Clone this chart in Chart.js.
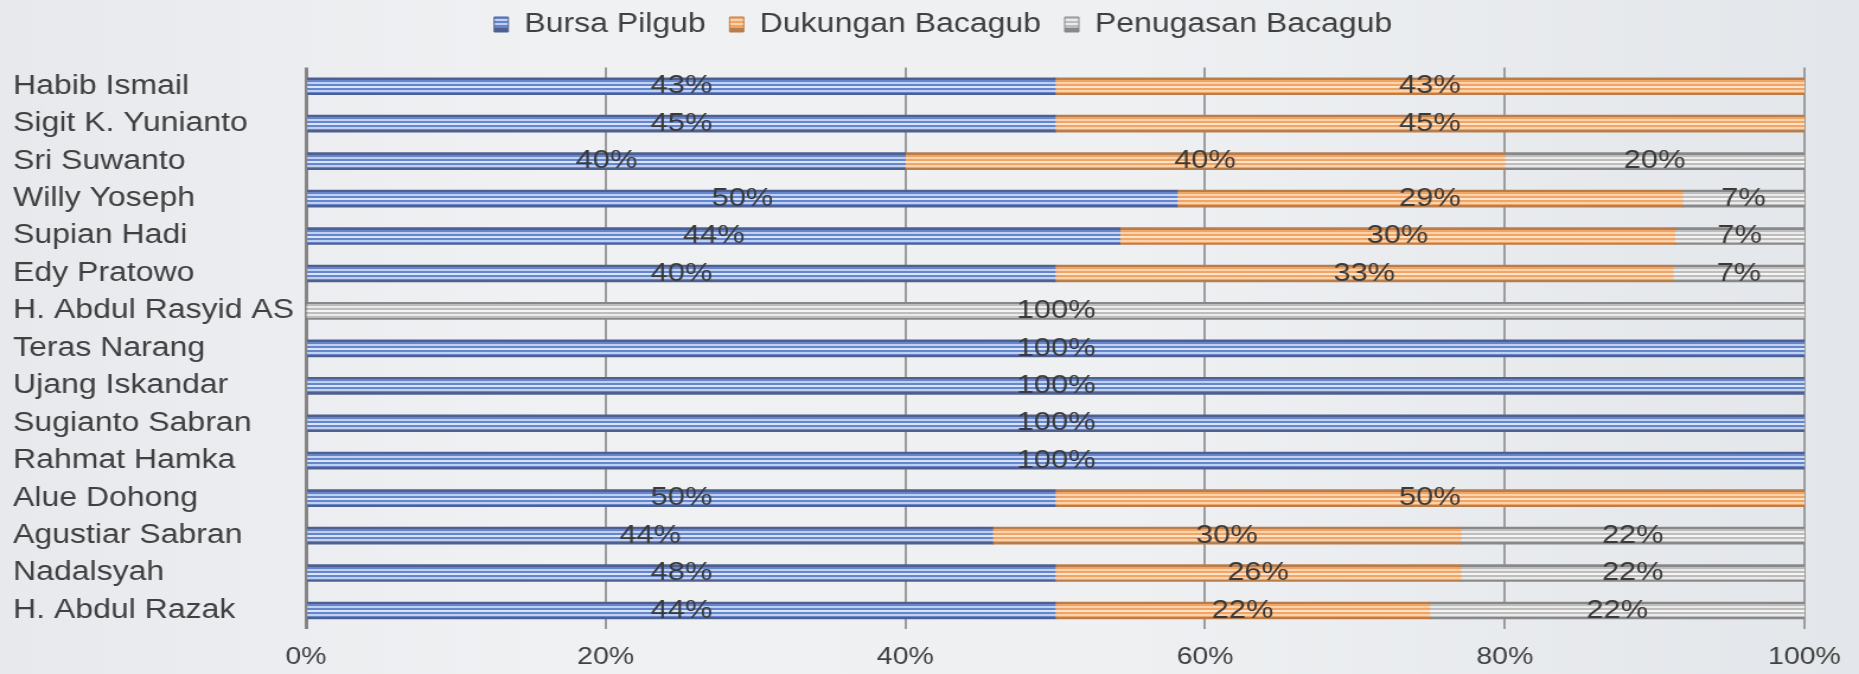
<!DOCTYPE html>
<html>
<head>
<meta charset="utf-8">
<script src="https://cdn.jsdelivr.net/npm/chart.js@4.4.1/dist/chart.umd.min.js"></script>
<style>
html,body{margin:0;padding:0;width:1859px;height:674px;overflow:hidden;
  background:linear-gradient(90deg,#e7e9ed 0%,#f0f1f3 30%,#eef0f2 60%,#e3e6ea 100%);}
#wrap{position:absolute;left:0;top:0;width:1568px;height:674px;transform:scaleX(1.18559);transform-origin:0 0;}
canvas{display:block;}
</style>
</head>
<body>
<div id="wrap"><canvas id="c" width="1568" height="674"></canvas></div>
<script>
// ---------- data ----------
const categories = [
  'Habib Ismail','Sigit K. Yunianto','Sri Suwanto','Willy Yoseph','Supian Hadi','Edy Pratowo',
  'H. Abdul Rasyid AS','Teras Narang','Ujang Iskandar','Sugianto Sabran','Rahmat Hamka',
  'Alue Dohong','Agustiar Sabran','Nadalsyah','H. Abdul Razak'
];
const seriesNames = ['Bursa Pilgub','Dukungan Bacagub','Penugasan Bacagub'];
const bursaPilgub      = [43,45,40,50,44,40,  0,100,100,100,100,50,44,48,44];
const dukunganBacagub  = [43,45,40,29,30,33,  0,  0,  0,  0,  0,50,30,26,22];
const penugasanBacagub = [ 0, 0,20, 7, 7, 7,100,  0,  0,  0,  0, 0,22,22,22];
const xTicks = [0,20,40,60,80,100];

// ---------- styles ----------
const FONT = "'Liberation Sans', Arial, sans-serif";
const TEXT = '#404040';
const BAR_T = 17;
const stripeSets = [
  {edge:'#4f6090', main:'#6586cf', light:'#c0d0ef', lighter:'#dae4f7'},
  {edge:'#b97d4c', main:'#f0a466', light:'#fbd3ab', lighter:'#fde4cb'},
  {edge:'#888888', main:'#bdbdbd', light:'#eaeaea', lighter:'#f5f5f5'}
];
function stopsFor(s){
  return [[0,2,s.edge],[2,4,s.main],[4,6,s.light],[6,8,s.main],[8,10,s.lighter],
          [10,12,s.main],[12,14,s.light],[14,15.2,s.main],[15.2,17,s.edge]];
}
function stripeFill(idx){
  const s = stripeSets[idx];
  const stops = stopsFor(s);
  return (ctx) => {
    const chart = ctx.chart;
    const ys = chart.scales && chart.scales.y;
    if (ctx.type !== 'data' || !ys || !chart.chartArea) return s.main;
    const yc = ys.getPixelForValue(ctx.dataIndex);
    const g = chart.ctx.createLinearGradient(0, yc - BAR_T/2, 0, yc + BAR_T/2);
    stops.forEach(([a,b,c]) => { g.addColorStop(a/BAR_T, c); g.addColorStop(b/BAR_T, c); });
    return g;
  };
}
function legendFill(idx, chart){
  const s = stripeSets[idx];
  const top = 15, h = 15;
  const g = chart.ctx.createLinearGradient(0, top, 0, top + h);
  const st = [[0,2,s.edge],[2,4.5,s.main],[4.5,6.5,s.light],[6.5,8.5,s.main],[8.5,10.5,s.light],[10.5,13,s.main],[13,15,s.edge]];
  st.forEach(([a,b,c]) => { g.addColorStop(a/h, c); g.addColorStop(b/h, c); });
  return g;
}

// ---------- derived (100% stacked) ----------
const rawSeries = [bursaPilgub, dukunganBacagub, penugasanBacagub];
const totals = categories.map((_, i) => rawSeries.reduce((t, s) => t + s[i], 0));
const normSeries = rawSeries.map(s => s.map((v, i) => totals[i] ? v / totals[i] * 100 : 0));

// ---------- plugins ----------
const LEGEND_PAD = 20, LEGEND_EXTRA = 10.5, LEGEND_UP = 9, LEGEND_SHIFT = 29;
const legendTweak = {
  id: 'legendTweak',
  afterInit(chart){
    const lg = chart.legend;
    const fit = lg.fit;
    lg.fit = function(){ fit.call(this); this.height += LEGEND_EXTRA; };
  },
  afterLayout(chart){
    const lg = chart.legend;
    lg.left += LEGEND_SHIFT; lg.right += LEGEND_SHIFT;
    lg.top -= LEGEND_UP; lg.bottom -= LEGEND_UP;
  }
};
const valueLabels = {
  id: 'valueLabels',
  afterDatasetsDraw(chart){
    const ctx = chart.ctx;
    ctx.save();
    ctx.font = '26px ' + FONT;
    ctx.fillStyle = '#3a3a3a';
    ctx.textAlign = 'center';
    ctx.textBaseline = 'middle';
    rawSeries.forEach((s, di) => {
      const meta = chart.getDatasetMeta(di);
      meta.data.forEach((bar, j) => {
        const v = s[j];
        if (!v) return;
        ctx.fillText(v + '%', (bar.x + bar.base) / 2, bar.y);
      });
    });
    ctx.restore();
  }
};

new Chart(document.getElementById('c'), {
  type: 'bar',
  data: {
    labels: categories,
    datasets: seriesNames.map((n, i) => ({
      label: n,
      data: normSeries[i],
      backgroundColor: stripeFill(i),
      borderWidth: 0,
      barThickness: BAR_T
    }))
  },
  options: {
    indexAxis: 'y',
    responsive: false,
    animation: false,
    devicePixelRatio: 1,
    layout: { padding: { left: 11, right: 46, top: 0, bottom: 4 } },
    plugins: {
      tooltip: { enabled: false },
      legend: {
        position: 'top',
        labels: {
          font: { family: FONT, size: 27 },
          color: TEXT,
          boxWidth: 12,
          boxHeight: 15,
          padding: LEGEND_PAD,
          generateLabels: (chart) => seriesNames.map((n, i) => ({
            text: n, fillStyle: legendFill(i, chart), strokeStyle: stripeSets[i].edge,
            lineWidth: 1, hidden: false, datasetIndex: i, fontColor: TEXT
          }))
        }
      }
    },
    scales: {
      x: {
        stacked: true,
        min: 0, max: 100,
        afterBuildTicks: (s) => { s.ticks = xTicks.map(v => ({ value: v })); },
        afterFit: (s) => { s.height = s.height - 16; },
        ticks: {
          callback: (v) => v + '%',
          font: { family: FONT, size: 24 },
          color: TEXT,
          padding: 14,
          maxRotation: 0
        },
        grid: {
          drawTicks: false,
          color: (c) => (c.tick && c.tick.value === 0) ? '#858585' : '#9c9c9c',
          lineWidth: (c) => (c.tick && c.tick.value === 0) ? 3 : 2
        },
        border: { display: false }
      },
      y: {
        stacked: true,
        afterFit: (s) => { s.width = 247; },
        ticks: {
          crossAlign: 'far',
          font: { family: FONT, size: 27 },
          color: TEXT,
          autoSkip: false
        },
        grid: { display: false },
        border: { display: false }
      }
    }
  },
  plugins: [legendTweak, valueLabels]
});
</script>
</body>
</html>
